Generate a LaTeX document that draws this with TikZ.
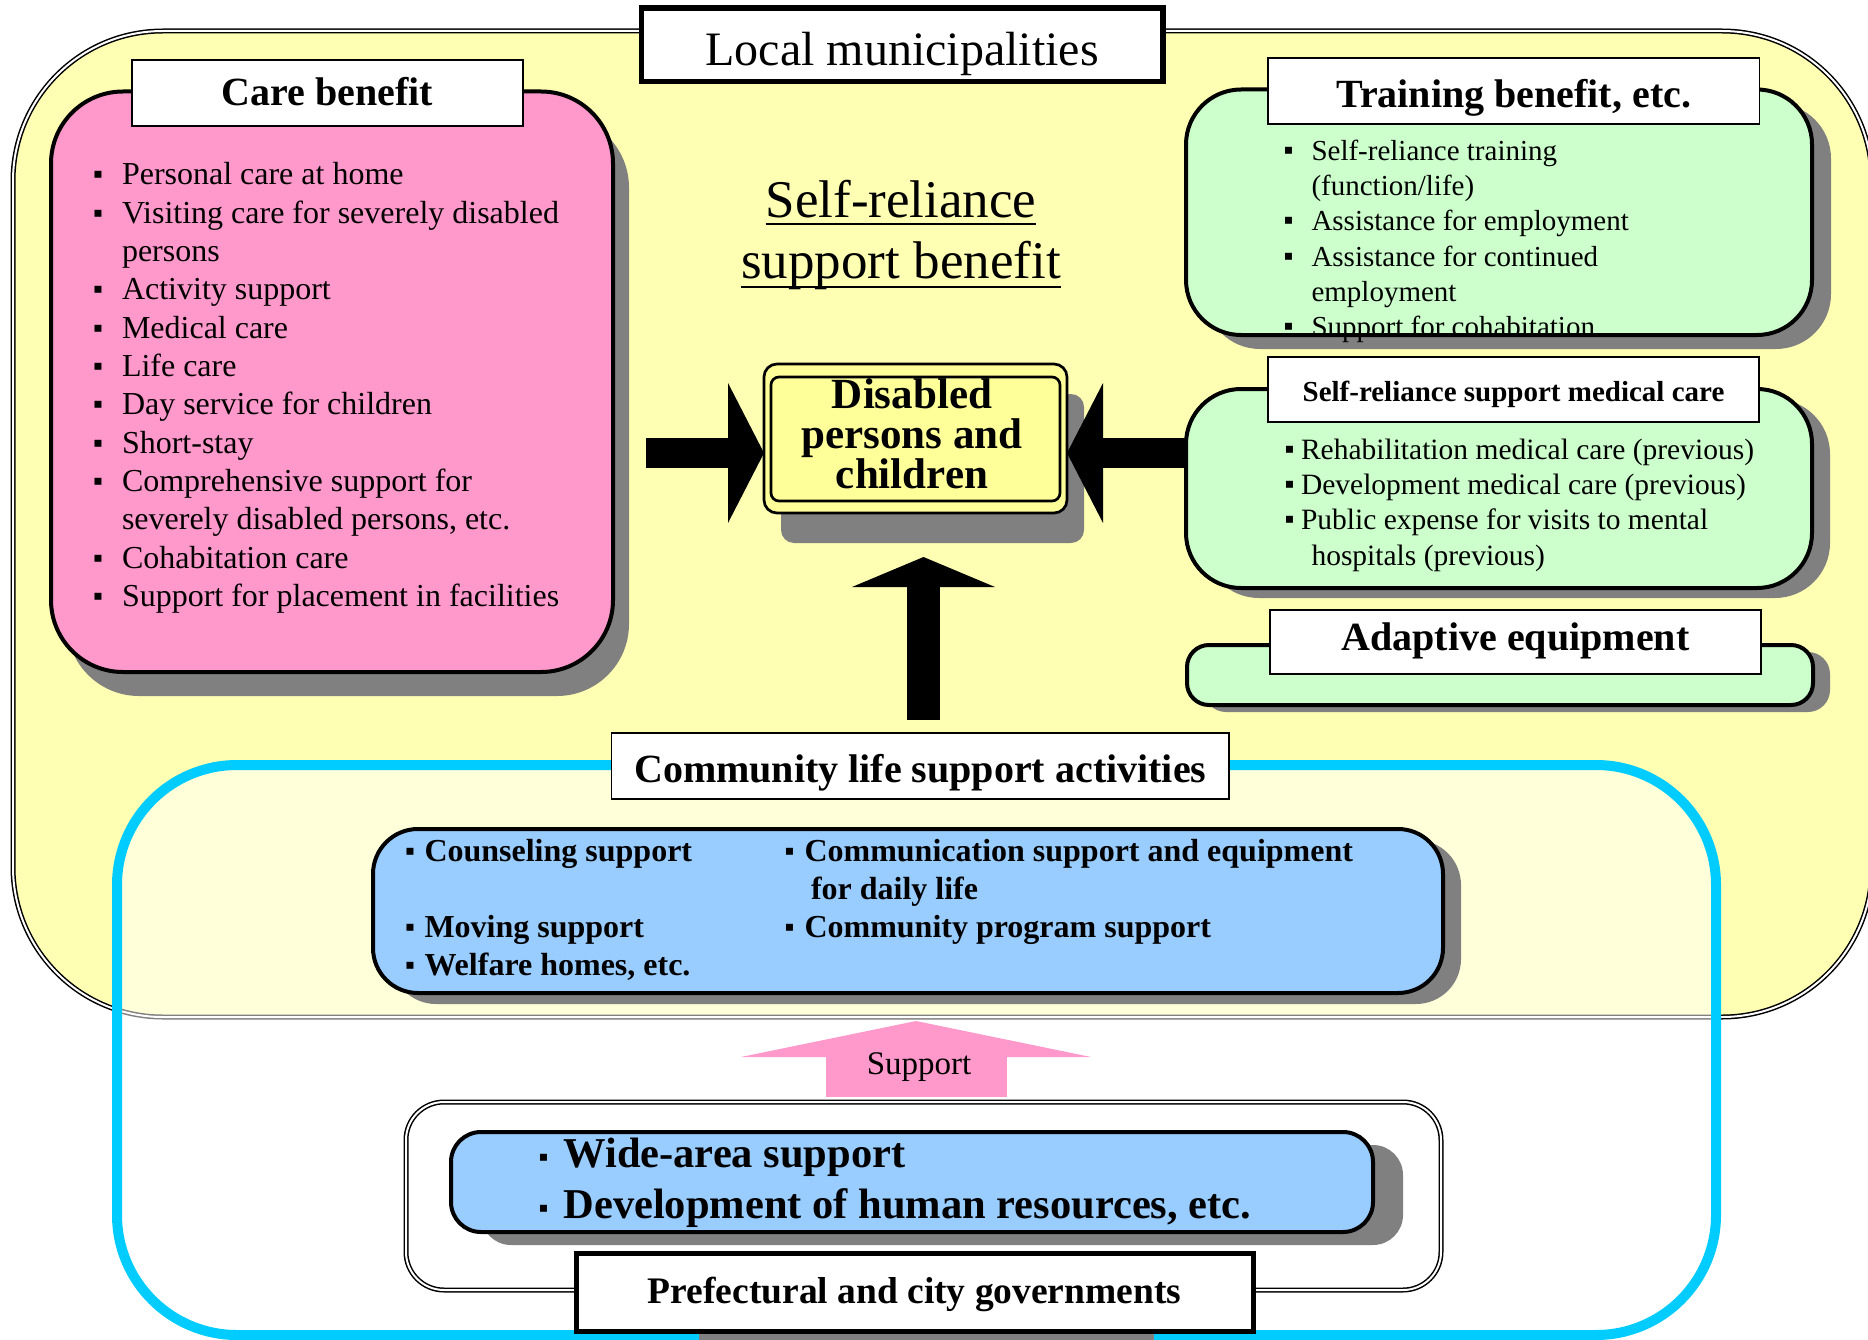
\documentclass[tikz,border=0pt]{standalone}
\usepackage{fontspec}
\setmainfont{Liberation Serif}
\usetikzlibrary{shadows,arrows.meta,calc}
\definecolor{yelbg}{HTML}{FFFFB3}
\definecolor{pinkbox}{HTML}{FF99CC}
\definecolor{greenbox}{HTML}{CCFFCC}
\definecolor{bluebox}{HTML}{99CCFF}
\definecolor{centerfill}{HTML}{FFFF99}
\definecolor{cyanline}{HTML}{00CCFF}
\definecolor{shgray}{HTML}{808080}
\newcommand\sqbul{\raisebox{1pt}{\fontsize{28}{28}\selectfont ▪}}
\newcommand\bitem[1]{\makebox[#1][l]{\sqbul}}
\begin{document}
\begin{tikzpicture}[x=1pt,y=-1pt,
  every node/.style={inner sep=0pt, outer sep=0pt},
  area/.style={rectangle, anchor=north west},
  panel/.style={area, draw=black, line width=4pt, rounded corners=#1},
  sh/.style 2 args={drop shadow={shadow xshift=#1pt, shadow yshift=-#2pt, fill=shgray, opacity=1}},
  titlebox/.style={area, draw=black, line width=1.5pt, fill=white, font=\fontsize{40}{48}\selectfont\bfseries, text depth=0pt},
  thickbox/.style={area, draw=black, line width=5pt, fill=white, text depth=0pt},
  dbl/.style={draw=black, line width=1.5pt, double=white, double distance=2pt},
  careitem/.style={anchor=base west, font=\fontsize{32}{38}\selectfont},
  trainitem/.style={anchor=base west, font=\fontsize{29}{35}\selectfont},
  meditem/.style={anchor=base west, font=\fontsize{29.5}{35}\selectfont},
  commitem/.style={anchor=base west, font=\fontsize{32}{38}\selectfont\bfseries},
  prefitem/.style={anchor=base west, font=\fontsize{42.5}{50}\selectfont\bfseries},
  centertext/.style={anchor=base, font=\fontsize{43}{40}\selectfont\bfseries},
  headline/.style={anchor=base, font=\fontsize{53}{64}\selectfont},
  blockarrow/.style={draw=black, line width=30pt, -{Triangle[length=36pt, width=140pt, line width=0pt]}},
  uparrow/.style={draw=black, line width=33pt, -{Triangle[length=30pt, width=143pt, line width=0pt]}},
  pinkarrow/.style={draw=pinkbox, line width=181pt, -{Triangle[length=36pt, width=350pt, line width=0pt]}},
]
\useasboundingbox (0,0) rectangle (1868,1340);

% Local municipalities area
\node[area, dbl, fill=yelbg, rounded corners=150pt, minimum width=1859pt, minimum height=986pt] (local) at (13,31) {};
\node[thickbox, line width=5.5pt, minimum width=521.5pt, minimum height=73.5pt, font=\fontsize{48}{56}\selectfont, text height=42.5pt] (localtitle) at (641.5,8) {Local municipalities};

% Care benefit
\node[panel=72pt, fill=pinkbox, sh={16}{24}, minimum width=562pt, minimum height=580.5pt] (care) at (51,91.5) {};
\node[titlebox, minimum width=391pt, minimum height=66pt, text height=26pt] (caretitle) at (132,60) {Care benefit};
\node[careitem] (c1) at (93,185) {\bitem{29pt}Personal care at home};
\node[careitem] (c2) at (93,223.3) {\bitem{29pt}Visiting care for severely disabled};
\node[careitem] (c3) at (93,261.6) {\hspace*{29pt}persons};
\node[careitem] (c4) at (93,299.9) {\bitem{29pt}Activity support};
\node[careitem] (c5) at (93,338.2) {\bitem{29pt}Medical care};
\node[careitem] (c6) at (93,376.5) {\bitem{29pt}Life care};
\node[careitem] (c7) at (93,414.8) {\bitem{29pt}Day service for children};
\node[careitem] (c8) at (93,453.1) {\bitem{29pt}Short-stay};
\node[careitem] (c9) at (93,491.4) {\bitem{29pt}Comprehensive support for};
\node[careitem] (c10) at (93,529.7) {\hspace*{29pt}severely disabled persons, etc.};
\node[careitem] (c11) at (93,568) {\bitem{29pt}Cohabitation care};
\node[careitem] (c12) at (93,606.3) {\bitem{29pt}Support for placement in facilities};

% Self-reliance support benefit
\node[headline] (sr1) at (901,218) {Self-reliance};
\node[headline] (sr2) at (901,279) {support benefit};
\draw[line width=2.5pt] ($(sr1.base west)+(0,6)$) -- ($(sr1.base east)+(0,6)$);
\draw[line width=2.5pt] ($(sr2.base west)+(0,8)$) -- ($(sr2.base east)+(0,8)$);

% Disabled persons and children
\node[area, draw=black, line width=2.7pt, fill=centerfill, rounded corners=13pt, sh={17}{30}, minimum width=303pt, minimum height=149pt] (cbox) at (764,364) {};
\node[area, draw=black, line width=2.7pt, rounded corners=8pt, minimum width=289pt, minimum height=124pt] (cinner) at (771,377) {};
\node[centertext] (dis1) at (912,408) {Disabled};
\node[centertext] (dis2) at (912,448) {persons and};
\node[centertext] (dis3) at (912,488) {children};

% Training benefit
\node[area, fill=greenbox, rounded corners=55pt, sh={19}{14}, minimum width=626pt, minimum height=245.5pt] (train) at (1186,89.5) {};
\node[trainitem] (t1) at (1283.5,160.5) {\bitem{28pt}Self-reliance training};
\node[trainitem] (t2) at (1283.5,195.7) {\hspace*{28pt}(function/life)};
\node[trainitem] (t3) at (1283.5,230.9) {\bitem{28pt}Assistance for employment};
\node[trainitem] (t4) at (1283.5,266.1) {\bitem{28pt}Assistance for continued};
\node[trainitem] (t5) at (1283.5,301.3) {\hspace*{28pt}employment};
\node[trainitem] (t6) at (1283.5,336.5) {\bitem{28pt}Support for cohabitation};
\draw[line width=4pt, rounded corners=55pt] (train.north west) rectangle (train.south east);
\node[titlebox, minimum width=491.5pt, minimum height=66pt, text height=34pt] (traintitle) at (1268,58) {Training benefit, etc.};

% Medical care
\node[panel=55pt, fill=greenbox, sh={18}{10}, minimum width=626pt, minimum height=199pt] (med) at (1186,389) {};
\node[titlebox, font=\fontsize{29}{35}\selectfont\bfseries, minimum width=491pt, minimum height=65pt, text height=23pt] (medtitle) at (1268,357) {Self-reliance support medical care};
\node[meditem] (m1) at (1284.5,459) {\bitem{16.5pt}Rehabilitation medical care (previous)};
\node[meditem] (m2) at (1284.5,494.4) {\bitem{16.5pt}Development medical care (previous)};
\node[meditem] (m3) at (1284.5,529.8) {\bitem{16.5pt}Public expense for visits to mental};
\node[meditem] (m4) at (1284.5,565.2) {\hspace*{27pt}hospitals (previous)};

% Adaptive equipment
\node[panel=22pt, fill=greenbox, sh={17}{7}, minimum width=626pt, minimum height=60pt] (adapt) at (1187,645) {};
\node[titlebox, minimum width=491pt, minimum height=64pt, text height=16pt] (adapttitle) at (1270,610) {Adaptive equipment};

% Arrows to the centre
\coordinate (ltail) at (646,453);
\coordinate (rtail) at (med.west |- ltail);
\draw[blockarrow] (ltail) -- (cbox.west |- ltail);
\draw[blockarrow] (rtail) -- (cbox.east |- ltail);
\coordinate (utail) at (923.5,720);
\coordinate (utip) at (923.5,557);
\draw[uparrow] (utail) -- (utip);

% Community life support activities
\node[area, draw=cyanline, line width=10pt, fill=white, fill opacity=0.5, rounded corners=120pt, minimum width=1599pt, minimum height=570pt] (community) at (117,765) {};
\node[panel=45pt, fill=bluebox, sh={18}{11}, minimum width=1070pt, minimum height=164pt] (commbox) at (373,829) {};
\node[commitem] (k1) at (405,861) {\bitem{19.5pt}Counseling support};
\node[commitem] (k2) at (405,937) {\bitem{19.5pt}Moving support};
\node[commitem] (k3) at (405,975) {\bitem{19.5pt}Welfare homes, etc.};
\node[commitem] (k4) at (784.5,861) {\bitem{20pt}Communication support and equipment};
\node[commitem] (k5) at (784.5,899) {\hspace*{26.5pt}for daily life};
\node[commitem] (k6) at (784.5,937) {\bitem{20pt}Community program support};
\node[titlebox, minimum width=617.5pt, minimum height=66pt, text height=32pt] (commtitle) at (611.5,733) {Community life support activities};

% Support arrow
\coordinate (ptail) at (916,1097);
\coordinate (ptip) at (916,1021);
\draw[pinkarrow] (ptail) -- (ptip);
\node[anchor=base, font=\fontsize{33}{40}\selectfont] (supporttext) at (919,1074) {Support};

% Prefectural and city governments
\node[area, dbl, fill=white, rounded corners=38pt, minimum width=1035pt, minimum height=188pt] (pref) at (406,1102) {};
\node[panel=30pt, fill=bluebox, sh={30}{13}, minimum width=922pt, minimum height=100pt] (prefbox) at (451,1132) {};
\node[prefitem] (p1) at (538.5,1167) {\bitem{25pt}Wide-area support};
\node[prefitem] (p2) at (538.5,1218) {\bitem{25pt}Development of human resources, etc.};
\fill[shgray] (699,1333) rectangle (1154,1345);
\node[thickbox, minimum width=677pt, minimum height=78pt, font=\fontsize{37.5}{44}\selectfont\bfseries, text height=22pt] (preftitle) at (576,1253) {Prefectural and city governments};
\end{tikzpicture}
\end{document}
